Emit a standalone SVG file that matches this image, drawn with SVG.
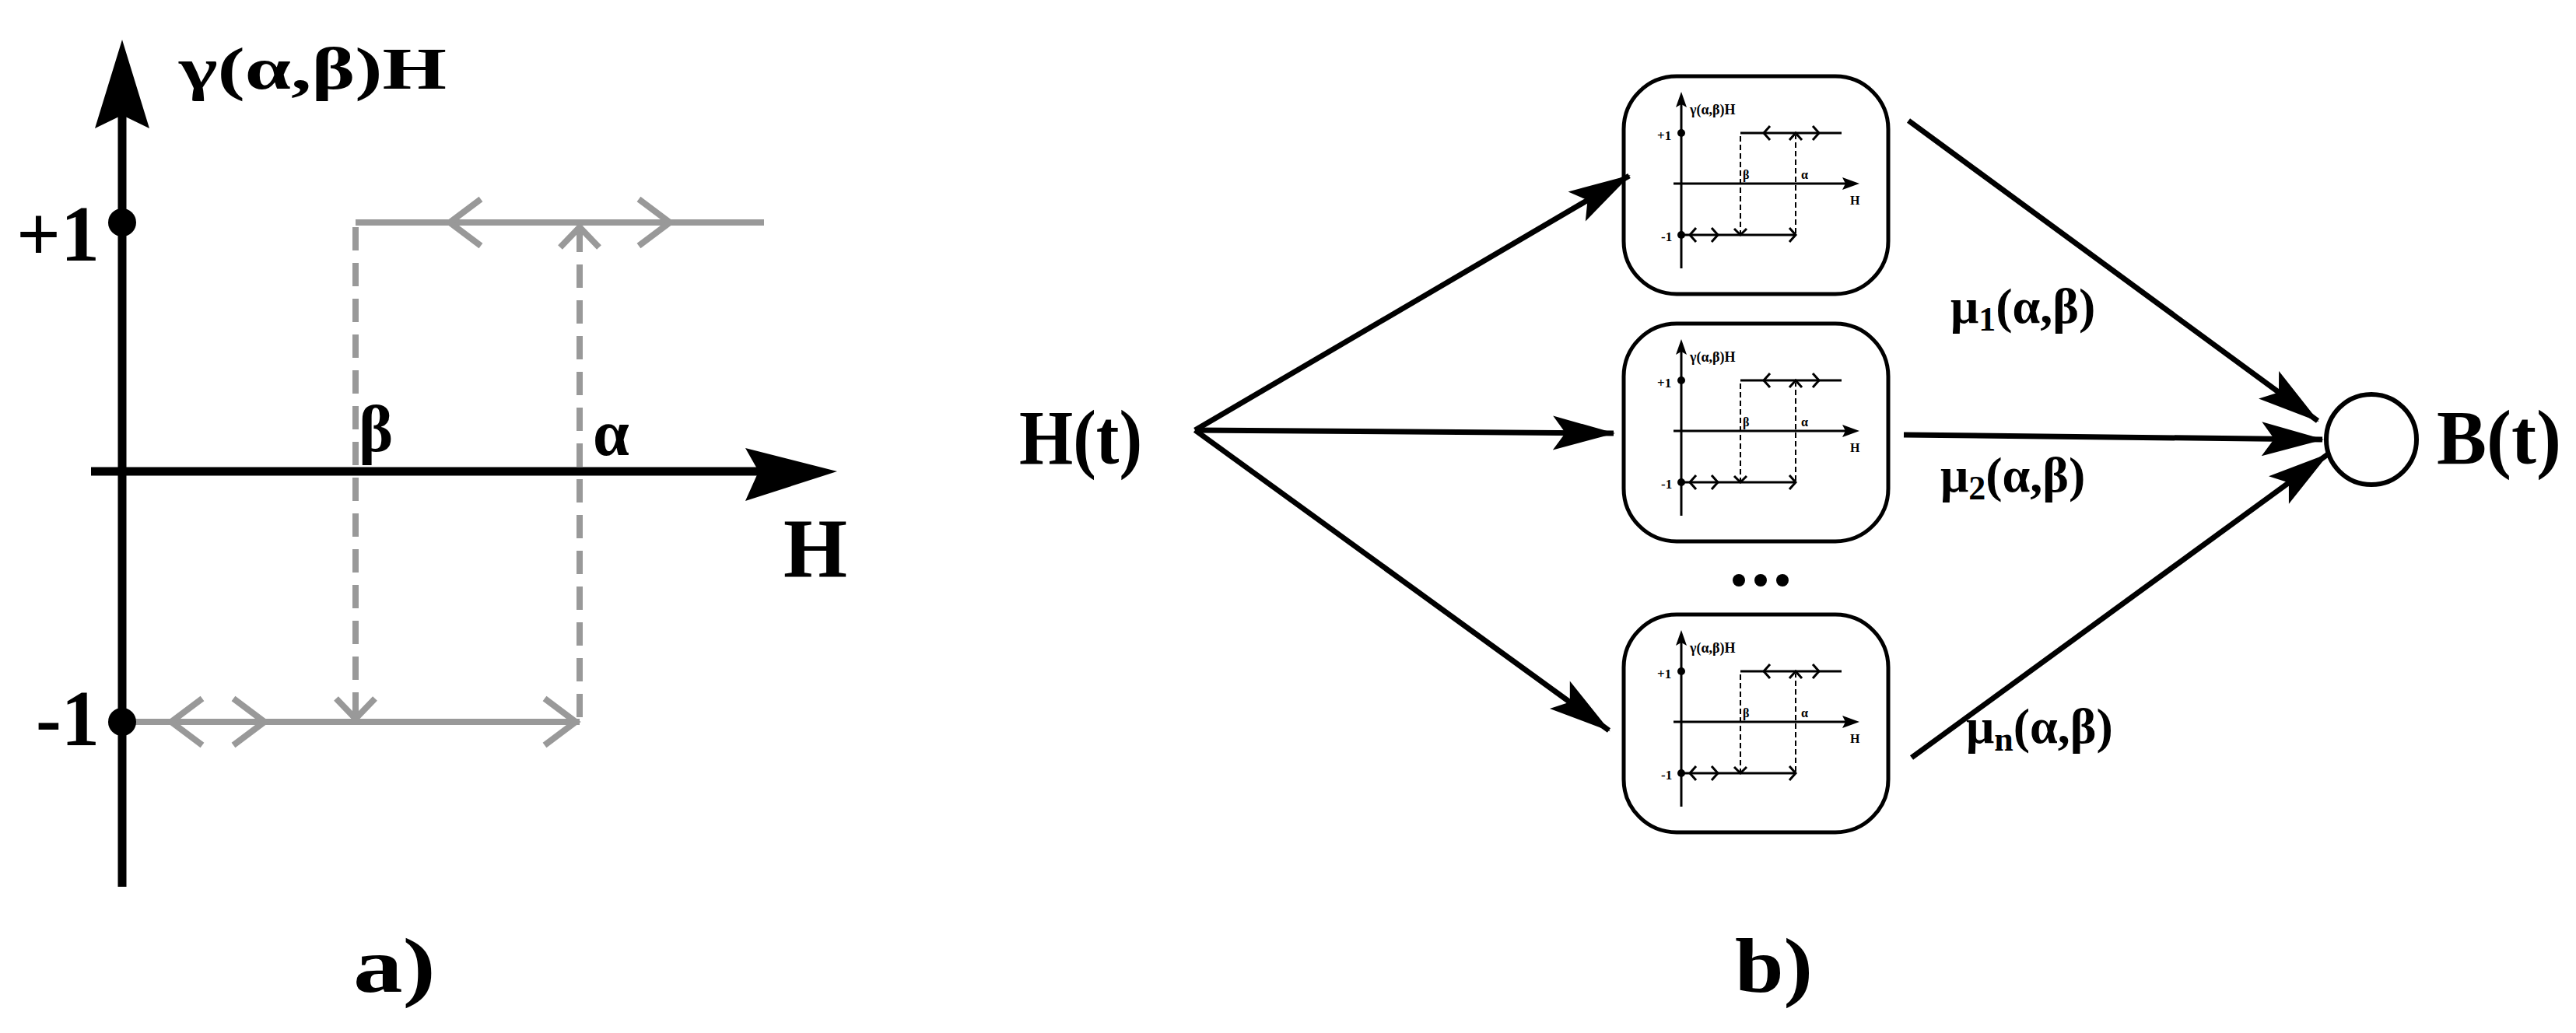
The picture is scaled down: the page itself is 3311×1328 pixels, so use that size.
<svg xmlns="http://www.w3.org/2000/svg" width="3311" height="1328" viewBox="0 0 3311 1328">
<style>
text{font-family:"Liberation Serif","Times New Roman",serif;font-weight:bold;fill:#000}
.ax{stroke:#000;fill:none}
.g{stroke:#999;stroke-width:8;fill:none}
.gd{stroke:#999;stroke-width:8;fill:none;stroke-dasharray:30,16}
.m{stroke:#000;stroke-width:3;fill:none}
.md{stroke:#000;stroke-width:2;fill:none;stroke-dasharray:7,4}
.box{fill:#fff;stroke:#000;stroke-width:5}
.c{stroke:#000;stroke-width:7;fill:none}
</style>
<defs>
<marker id="ah" viewBox="0 0 80 44" refX="78" refY="22" markerWidth="80" markerHeight="44" markerUnits="userSpaceOnUse" orient="auto" style="overflow:visible">
<path d="M0,0 L80,22 L0,44 L16,22 Z" fill="#000"/>
</marker>
<g id="mini">
<line class="m" x1="2161" y1="130" x2="2161" y2="345"/>
<path d="M2161,118 L2168,138 L2161,134 L2154,138 Z" fill="#000"/>
<line class="m" x1="2151" y1="236" x2="2378" y2="236"/>
<path d="M2390,236 L2368,244 L2372,236 L2368,228 Z" fill="#000"/>
<circle cx="2161" cy="171" r="5"/>
<circle cx="2161" cy="302" r="5"/>
<polyline class="m" points="2237,171 2367,171"/>
<line class="m" x1="2161" y1="302" x2="2308" y2="302"/>
<line class="md" x1="2237" y1="175" x2="2237" y2="300"/>
<line class="md" x1="2308" y1="300" x2="2308" y2="174"/>
<polyline class="m" points="2275,162 2267,171 2275,180"/>
<polyline class="m" points="2330,162 2338,171 2330,180"/>
<polyline class="m" points="2180,293 2172,302 2180,311"/>
<polyline class="m" points="2200,293 2208,302 2200,311"/>
<polyline class="m" points="2229,294 2237,302 2245,294"/>
<polyline class="m" points="2300,293 2308,302 2300,311"/>
<polyline class="m" points="2300,180 2308,171 2316,180"/>
<text x="2172" y="147" font-size="18">γ(α,β)H</text>
<text x="2130" y="180" font-size="17">+1</text>
<text x="2135" y="310" font-size="17">-1</text>
<text x="2240" y="230" font-size="16">β</text>
<text x="2315" y="230" font-size="16">α</text>
<text x="2378" y="263" font-size="16">H</text>
</g>
</defs>

<g id="panel-a">
<line class="ax" stroke-width="11" x1="157" y1="140" x2="157" y2="1140"/>
<path d="M157,51 L192,165 L157,148 L122,165 Z" fill="#000"/>
<line class="ax" stroke-width="11" x1="117" y1="606" x2="990" y2="606"/>
<path d="M1076,606 L958,644 L975,606 L958,576 Z" fill="#000"/>
<polyline class="g" points="457,286 982,286"/>
<line class="g" x1="157" y1="928" x2="745" y2="928"/>
<line class="gd" x1="457" y1="292" x2="457" y2="922"/>
<line class="gd" x1="745" y1="922" x2="745" y2="296"/>
<polyline class="g" points="618,256 578,286 618,316"/>
<polyline class="g" points="821,256 861,286 821,316"/>
<polyline class="g" points="720,318 745,292 770,318"/>
<polyline class="g" points="260,898 220,928 260,958"/>
<polyline class="g" points="300,898 340,928 300,958"/>
<polyline class="g" points="432,898 457,924 482,898"/>
<polyline class="g" points="700,898 740,928 700,958"/>
<circle cx="157" cy="286" r="18"/>
<circle cx="157" cy="928" r="18"/>
<text x="230" y="114" font-size="76" textLength="344" lengthAdjust="spacingAndGlyphs">γ(α,β)H</text>
<text x="21" y="335" font-size="102" textLength="107" lengthAdjust="spacingAndGlyphs">+1</text>
<text x="46" y="958" font-size="102" textLength="82" lengthAdjust="spacingAndGlyphs">-1</text>
<text x="461" y="580" font-size="84">β</text>
<text x="762" y="585" font-size="84">α</text>
<text x="1007" y="742" font-size="108" textLength="82" lengthAdjust="spacingAndGlyphs">H</text>
<text x="454" y="1275" font-size="100" textLength="106" lengthAdjust="spacingAndGlyphs">a)</text>
</g>

<g id="box1"><rect class="box" x="2087" y="98" width="340" height="280" rx="68"/><use href="#mini"/></g>
<g id="box2" transform="translate(0,318)"><rect class="box" x="2087" y="98" width="340" height="280" rx="68"/><use href="#mini"/></g>
<g id="box3" transform="translate(0,692)"><rect class="box" x="2087" y="98" width="340" height="280" rx="68"/><use href="#mini"/></g>
<g id="sum"><circle cx="3048" cy="565" r="58" fill="#fff" stroke="#000" stroke-width="6"/></g>

<g id="connectors">
<line class="c" x1="1536" y1="553" x2="2094" y2="226" marker-end="url(#ah)"/>
<line class="c" x1="1536" y1="553" x2="2074" y2="557" marker-end="url(#ah)"/>
<line class="c" x1="1536" y1="553" x2="2068" y2="939" marker-end="url(#ah)"/>
<line class="c" x1="2453" y1="155" x2="2979" y2="541" marker-end="url(#ah)"/>
<line class="c" x1="2447" y1="559" x2="2985" y2="565" marker-end="url(#ah)"/>
<line class="c" x1="2457" y1="974" x2="2992" y2="584" marker-end="url(#ah)"/>
</g>

<g id="labels">
<text x="1310" y="596" font-size="100" textLength="158" lengthAdjust="spacingAndGlyphs">H(t)</text>
<text x="3132" y="596" font-size="100" textLength="160" lengthAdjust="spacingAndGlyphs">B(t)</text>
<text x="2507" y="415" font-size="64">μ<tspan font-size="44" dy="10">1</tspan><tspan dy="-10">(α,β)</tspan></text>
<text x="2494" y="632" font-size="64">μ<tspan font-size="44" dy="10">2</tspan><tspan dy="-10">(α,β)</tspan></text>
<text x="2527" y="955" font-size="64">μ<tspan font-size="44" dy="10">n</tspan><tspan dy="-10">(α,β)</tspan></text>
<circle cx="2235" cy="746" r="8"/><circle cx="2263" cy="746" r="8"/><circle cx="2291" cy="746" r="8"/>
<text x="2230" y="1275" font-size="100" textLength="100" lengthAdjust="spacingAndGlyphs">b)</text>
</g>
</svg>
